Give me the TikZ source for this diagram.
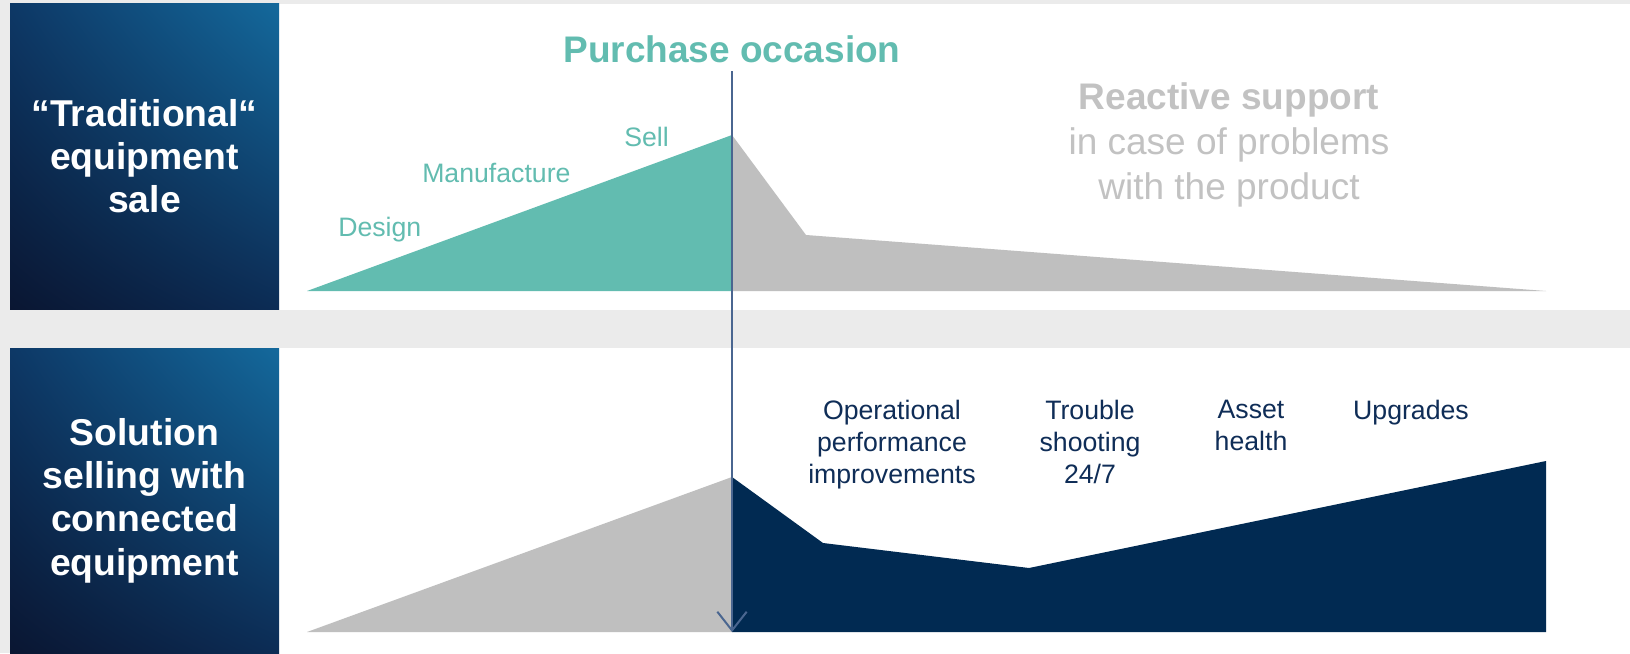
\documentclass[tikz,border=0pt]{standalone}
\usepackage{fontspec}
\setmainfont{Liberation Sans}
\usetikzlibrary{arrows.meta,shadings}
\definecolor{bggray}{HTML}{EBEBEB}
\definecolor{tealc}{HTML}{62BCB0}
\definecolor{areagray}{HTML}{BFBFBF}
\definecolor{navyc}{HTML}{012A52}
\definecolor{txtnavy}{HTML}{0F2D57}
\definecolor{linec}{HTML}{4A6690}
\definecolor{graytxt}{HTML}{C2C2C2}
\definecolor{boxUR}{HTML}{14699C}
\definecolor{boxUL}{HTML}{0D3866}
\definecolor{boxLR}{HTML}{0C2C55}
\definecolor{boxLL}{HTML}{0A1632}
\begin{document}
\begin{tikzpicture}[x=0.75pt,y=-0.75pt,
  sidebox/.style={inner sep=0pt, minimum width=201.75pt, text=white, align=center,
    font={\bfseries\fontsize{28}{32.5}\selectfont},
    upper right=boxUR, upper left=boxUL, lower right=boxLR, lower left=boxLL},
  phase/.style={anchor=base west, inner sep=0pt, text=tealc, font={\fontsize{20}{24}\selectfont}},
  service/.style={anchor=north, inner sep=0pt, text=txtnavy, align=center, font={\fontsize{20}{24}\selectfont}},
  timeline/.style={draw=linec, line width=1.5pt, -{Straight Barb[length=14pt,width=22pt,line width=1.5pt]}}
]
\useasboundingbox (0,0) rectangle (1630,653);
% backgrounds
\fill[bggray] (0,0) rectangle (1630,653);
\fill[white] (279,4) rectangle (1630,310);
\fill[white] (279,348) rectangle (1630,653);

% side boxes
\node[sidebox, minimum height=229.5pt] (trad) at (144.5,156) {“Traditional“\\equipment\\sale};
\node[sidebox, minimum height=228.75pt] (sol) at (144.5,500.5) {Solution\\selling with\\connected\\equipment};

% top areas
\fill[tealc] (307,291) -- (732,135) -- (732,291) -- cycle;
\fill[areagray] (732,135) -- (806,235) -- (1546,291) -- (732,291) -- cycle;

% bottom areas
\fill[areagray] (307,632) -- (732,477) -- (732,632) -- cycle;
\fill[navyc] (732,477) -- (823,543) -- (1029,568) -- (1546,461) -- (1546,632) -- (732,632) -- cycle;

% labels
\node[anchor=base, inner sep=0pt, text=tealc, font={\bfseries\fontsize{27.75}{33}\selectfont}] (purchase) at (732,62) {Purchase occasion};
\node[phase] (design) at (338,236) {Design};
\node[phase] (manuf) at (422,182) {Manufacture};
\node[phase] (sell) at (624,146) {Sell};
\node[anchor=north, inner sep=0pt, text=graytxt, align=center, font={\fontsize{27.75}{34}\selectfont}] (reactive) at (1229,82) {{\bfseries Reactive support}\\in case of problems\\with the product};

\node[service] (oper) at (892,400) {Operational\\performance\\improvements};
\node[service] (trouble) at (1090,400) {Trouble\\shooting\\24/7};
\node[service] (asset) at (1251,400) {Asset\\health};
\node[service] (upg) at (1411,400) {Upgrades};

% purchase occasion timeline
\coordinate (ltop) at (732,71);
\coordinate (ltip) at (732,632);
\draw[timeline] (ltop) -- (ltip);
\end{tikzpicture}
\end{document}
